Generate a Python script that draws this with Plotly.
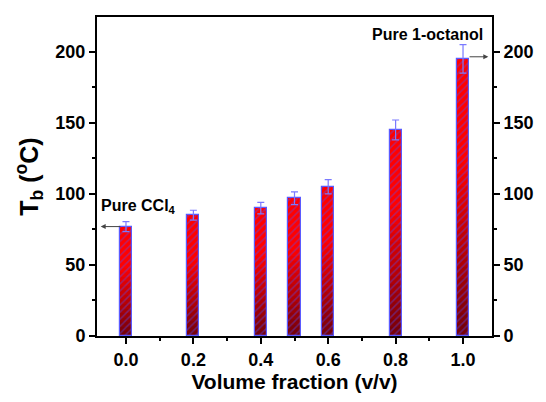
import plotly.graph_objects as go

fractions = [0.0, 0.2, 0.4, 0.5, 0.6, 0.8, 1.0]
tb_values = [77, 85, 90, 97, 105, 145, 195]
tb_errors = [3.5, 3.5, 4, 4.5, 5, 7, 10]

FONT = "Liberation Sans, Arial, sans-serif"
fig = go.Figure()

# gradient: overlaid bars from full height (bright red) down to small (dark red)
N = 24
top_rgb = (255, 0, 0)
bot_rgb = (110, 0, 10)
for k in range(N):
    frac = 1 - k / N
    t = min(1.0, max(0.0, (k / N - 0.35) / 0.65))
    c = tuple(int(top_rgb[i] + (bot_rgb[i] - top_rgb[i]) * t) for i in range(3))
    fig.add_trace(go.Bar(
        x=fractions, y=[v * frac for v in tb_values], width=0.036,
        marker=dict(color="rgb(%d,%d,%d)" % c, line=dict(width=0),
                    pattern=dict(shape="/", fgcolor="rgba(80,80,255,0.8)", size=5, solidity=0.3)),
        showlegend=False, hoverinfo="skip"))

fig.add_trace(go.Bar(
    x=fractions, y=tb_values, width=0.036,
    marker=dict(color="rgba(0,0,0,0)", line=dict(color="#5a5aff", width=1.2)),
    error_y=dict(type="data", array=tb_errors, color="#7a7aff", thickness=1.2, width=3.5),
    showlegend=False))

fig.add_trace(go.Scatter(x=[None], y=[None], yaxis="y2", showlegend=False))

tickfont = dict(family=FONT, size=18, color="black", weight="bold")
fig.update_layout(
    width=546, height=402,
    margin=dict(l=97, r=52, t=17, b=64),
    paper_bgcolor="white", plot_bgcolor="white",
    barmode="overlay", bargap=0,
    xaxis=dict(range=[-0.086, 1.086], tickvals=[0, 0.2, 0.4, 0.6, 0.8, 1.0],
               ticktext=["0.0", "0.2", "0.4", "0.6", "0.8", "1.0"],
               ticks="outside", ticklen=6, tickwidth=2, tickcolor="black",
               minor=dict(dtick=0.1, tick0=0, ticks="outside", ticklen=3, tickwidth=2, tickcolor="black"),
               showline=True, linecolor="black", linewidth=2, mirror=True,
               showgrid=False, zeroline=False, tickfont=tickfont,
               title=dict(text="Volume fraction (v/v)", font=dict(family=FONT, size=21, color="black", weight="bold"), standoff=6)),
    yaxis=dict(range=[0, 224.5], dtick=50, ticks="outside", ticklen=6, tickwidth=2, tickcolor="black",
               minor=dict(dtick=25, ticks="outside", ticklen=3, tickwidth=2, tickcolor="black"),
               showline=True, linecolor="black", linewidth=2,
               showgrid=False, zeroline=False, tickfont=tickfont,
               title=dict(text="T<sub>b</sub> (<sup>o</sup>C)", font=dict(family=FONT, size=25, color="black", weight="bold"), standoff=10)),
    yaxis2=dict(range=[0, 224.5], dtick=50, overlaying="y", side="right",
                ticks="outside", ticklen=6, tickwidth=2, tickcolor="black",
                minor=dict(dtick=25, ticks="outside", ticklen=3, tickwidth=2, tickcolor="black"),
                showline=True, linecolor="black", linewidth=2,
                showgrid=False, zeroline=False, tickfont=tickfont),
    font=dict(family=FONT),
)

fig.add_annotation(x=fractions[0], y=tb_values[0] + 14, text="<b>Pure CCl<sub>4</sub></b>",
                   showarrow=False, xanchor="left", xshift=-27, font=dict(family=FONT, size=16, color="black"))
fig.add_annotation(x=-0.075, y=tb_values[0], ax=fractions[0] - 0.012, ay=tb_values[0],
                   xref="x", yref="y", axref="x", ayref="y", text="", showarrow=True,
                   arrowhead=2, arrowsize=1, arrowwidth=1, arrowcolor="#444")
fig.add_annotation(x=fractions[-1], y=tb_values[-1] + 17, text="<b>Pure 1-octanol</b>",
                   showarrow=False, xanchor="right", xshift=22, font=dict(family=FONT, size=16, color="black"))
fig.add_annotation(x=1.075, y=tb_values[-1] + 1.5, ax=fractions[-1] + 0.015, ay=tb_values[-1] + 1.5,
                   xref="x", yref="y", axref="x", ayref="y", text="", showarrow=True,
                   arrowhead=2, arrowsize=1, arrowwidth=1, arrowcolor="#444")

fig.write_html("out.html")
